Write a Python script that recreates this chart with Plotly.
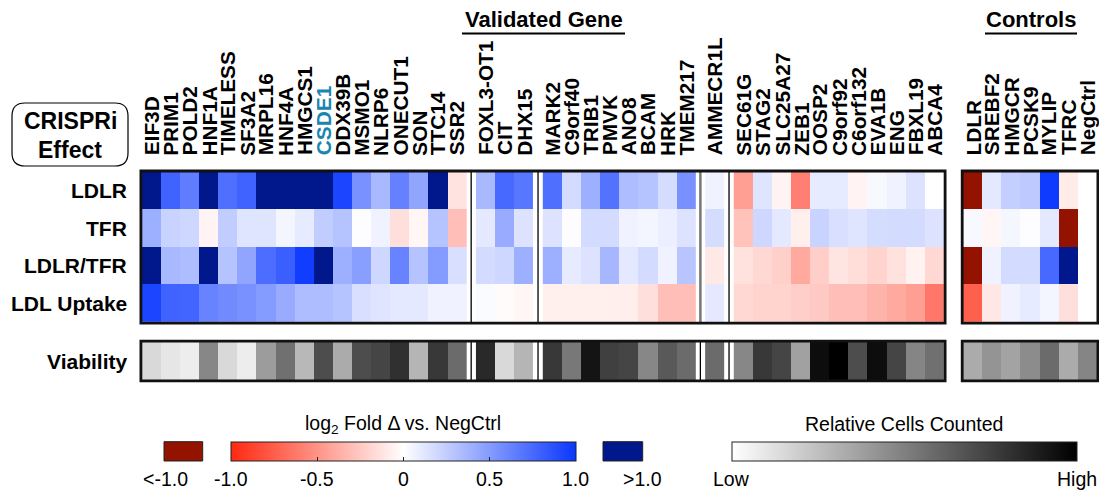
import plotly.graph_objects as go

# ---------------- data ----------------
row_names = ["LDLR", "TFR", "LDLR/TFR", "LDL Uptake"]

genes = ["EIF3D", "PRIM1", "POLD2", "HNF1A", "TIMELESS", "SF3A2", "MRPL16", "HNF4A",
         "HMGCS1", "CSDE1", "DDX39B", "MSMO1", "NLRP6", "ONECUT1", "SON", "TTC14", "SSR2",
         "FOXL3-OT1", "CIT", "DHX15",
         "MARK2", "C9orf40", "TRIB1", "PMVK", "ANO8", "BCAM", "HRK", "TMEM217",
         "AMMECR1L",
         "SEC61G", "STAG2", "SLC25A27", "ZEB1", "OOSP2", "C9orf92", "C6orf132", "EVA1B",
         "ENG", "FBXL19", "ABCA4"]
group_sizes = [17, 3, 8, 1, 11]
highlight_gene = "CSDE1"

# log2 fold change vs NegCtrl; values beyond +/-1 are shown saturated (>1.0 / <-1.0)
ldlr = [1.5, 0.78, 0.65, 1.5, 0.72, 0.78, 1.5, 1.5, 1.5, 1.5, 0.93, 0.55, 0.35, 0.63, 0.45, 1.5, -0.13,
        0.35, 0.75, 0.68,
        0.72, 0.18, 0.40, 0.70, 0.33, 0.30, 0.17, 0.55,
        0.06,
        -0.45, 0.13, -0.05, -0.59, 0.10, 0.10, -0.05, 0.03, 0.06, 0.14, 0.0]
tfr = [0.40, 0.22, 0.20, -0.05, 0.25, 0.13, 0.13, 0.05, 0.10, 0.25, 0.30, 0.01, 0.06, -0.15, -0.04, 0.30, -0.30,
       0.11, 0.42, 0.14,
       0.14, 0.01, 0.18, 0.18, 0.06, 0.05, 0.08, 0.14,
       0.17,
       -0.28, 0.20, 0.11, -0.07, 0.22, 0.16, 0.13, 0.17, 0.18, 0.18, 0.14]
ldlr_tfr = [1.5, 0.35, 0.33, 1.5, 0.30, 0.45, 0.73, 0.80, 0.97, 1.5, 0.40, 0.48, 0.20, 0.62, 0.30, 0.50, 0.16,
            0.18, 0.20, 0.40,
            0.40, 0.10, 0.14, 0.36, 0.11, 0.18, 0.06, 0.29,
            -0.10,
            -0.14, -0.18, -0.22, -0.40, -0.23, -0.12, -0.16, -0.20, -0.14, -0.06, -0.18]
ldl_uptake = [0.93, 0.78, 0.77, 0.62, 0.58, 0.55, 0.50, 0.42, 0.33, 0.33, 0.30, 0.16, 0.13, 0.11, 0.11, 0.06, 0.06,
              0.02, -0.02, -0.04,
              -0.07, -0.07, -0.07, -0.07, -0.08, -0.15, -0.30, -0.30,
              0.11,
              -0.18, -0.20, -0.20, -0.23, -0.25, -0.30, -0.30, -0.35, -0.40, -0.45, -0.63]
# relative cells counted (0 = low, 1 = high)
viability = [0.15, 0.10, 0.07, 0.47, 0.15, 0.07, 0.39, 0.56, 0.28, 0.70, 0.33, 0.70, 0.73, 0.81, 0.29, 0.78, 0.58,
             0.84, 0.15, 0.29,
             0.78, 0.53, 0.92, 0.75, 0.73, 0.47, 0.65, 0.58,
             0.58,
             0.47, 0.78, 0.73, 0.37, 0.95, 1.0, 0.70, 0.95, 0.73, 0.48, 0.56]

ctrl_genes = ["LDLR", "SREBF2", "HMGCR", "PCSK9", "MYLIP", "TFRC", "NegCtrl"]
ctrl_ldlr = [-1.5, 0.11, 0.24, 0.27, 0.98, -0.09, 0.0]
ctrl_tfr = [0.03, -0.04, 0.04, 0.01, 0.11, -1.5, 0.0]
ctrl_ldlr_tfr = [-1.5, 0.06, 0.18, 0.18, 0.75, 1.5, 0.0]
ctrl_ldl_uptake = [-0.74, -0.11, 0.06, 0.10, 0.05, -0.15, 0.0]
ctrl_viability = [0.33, 0.42, 0.36, 0.45, 0.58, 0.33, 0.48]

fc_ticks = [-1.0, -0.5, 0.0, 0.5, 1.0]
fc_ticktext = ["-1.0", "-0.5", "0", "0.5", "1.0"]

# ---------------- styling / layout constants ----------------
FIG_W, FIG_H = 1099, 491
FONT = "Liberation Sans, Arial, sans-serif"
CELL = 19.1
X0 = 141.7
GAP = 0.5
CTRL_GAP = 1.0
ROW_TOP = 171.8
ROW_H = 37.6
VIA_TOP = 342.0
VIA_H = 38.0

DR = "rgb(148,18,0)"
RED = "rgb(255,40,16)"
BLUE = "rgb(10,55,255)"
NAVY = "rgb(0,24,140)"
ZLIM = 1.2
fc_scale = [[0, DR], [0.0831, DR], [0.0835, RED], [0.5, "white"],
            [0.9165, BLUE], [0.9169, NAVY], [1, NAVY]]
grad_scale = [[0, RED], [0.5, "white"], [1, BLUE]]
gray_scale = [[0, "white"], [1, "black"]]

def paper_x(p):
    return p / FIG_W

def paper_y(p):
    return 1 - p / FIG_H

# group start positions (in cell units)
starts = []
pos = 0.0
for s in group_sizes:
    starts.append(pos)
    pos += s + GAP
main_end = pos - GAP
ctrl_start = main_end + CTRL_GAP

def px(u):
    return X0 + u * CELL

fig = go.Figure()

def add_block(sl, start_u, rows, via):
    fig.add_trace(go.Heatmap(
        z=[r[sl] for r in rows], x0=px(start_u) + CELL / 2, dx=CELL,
        y0=ROW_TOP + ROW_H / 2, dy=ROW_H,
        colorscale=fc_scale, zmin=-ZLIM, zmax=ZLIM, showscale=False, hoverinfo="skip"))
    fig.add_trace(go.Heatmap(
        z=[via[sl]], x0=px(start_u) + CELL / 2, dx=CELL,
        y0=VIA_TOP + VIA_H / 2, dy=VIA_H,
        colorscale=gray_scale, zmin=0, zmax=1, showscale=False, hoverinfo="skip"))

main_rows = [ldlr, tfr, ldlr_tfr, ldl_uptake]
idx = 0
for s, st in zip(group_sizes, starts):
    add_block(slice(idx, idx + s), st, main_rows, viability)
    idx += s
add_block(slice(0, len(ctrl_genes)), ctrl_start,
          [ctrl_ldlr, ctrl_tfr, ctrl_ldlr_tfr, ctrl_ldl_uptake], ctrl_viability)

# colorbar carriers (off-screen markers)
CB_TOP = 441.7
CB_TH = 19.3
FC_CX, FC_LEN = 403.3, 345.3
GR_CX, GR_LEN = 904.2, 345.0
fig.add_trace(go.Scatter(
    x=[-50, -50], y=[-50, -50], mode="markers", hoverinfo="skip", showlegend=False,
    marker=dict(color=[fc_ticks[0], fc_ticks[-1]], colorscale=grad_scale, cmin=-1, cmax=1,
                showscale=True,
                colorbar=dict(orientation="h", x=paper_x(FC_CX), xanchor="center",
                              y=paper_y(CB_TOP), yanchor="top", ypad=0, xpad=0,
                              len=FC_LEN, lenmode="pixels", thickness=CB_TH,
                              outlinewidth=1, outlinecolor="#222",
                              tickvals=fc_ticks[1:-1], ticks="inside", ticklen=4,
                              tickcolor="#222", showticklabels=False))))
fig.add_trace(go.Scatter(
    x=[-50, -50], y=[-50, -50], mode="markers", hoverinfo="skip", showlegend=False,
    marker=dict(color=[0, 1], colorscale=gray_scale, cmin=0, cmax=1, showscale=True,
                colorbar=dict(orientation="h", x=paper_x(GR_CX), xanchor="center",
                              y=paper_y(CB_TOP), yanchor="top", ypad=0, xpad=0,
                              len=GR_LEN, lenmode="pixels", thickness=CB_TH,
                              outlinewidth=1, outlinecolor="#222",
                              ticks="", showticklabels=False))))

shapes = []
annotations = []

def ann(text, x, y, size, bold=False, color="black", xanchor="center", yanchor="middle", angle=0):
    annotations.append(dict(text=text, x=x, y=y, xref="x", yref="y", showarrow=False,
                            xanchor=xanchor, yanchor=yanchor, textangle=angle, borderpad=0,
                            font=dict(family=FONT, size=size, color=color,
                                      weight="bold" if bold else "normal")))

# gene labels
GENE_FS = 20.8
idx = 0
for s, st in zip(group_sizes, starts):
    for k in range(s):
        g = genes[idx + k]
        ann(g, px(st + k + 0.5), 156.5, GENE_FS, bold=True,
            color="#1a86b0" if g == highlight_gene else "black",
            xanchor="center", yanchor="bottom", angle=-90)
    idx += s
for k, g in enumerate(ctrl_genes):
    ann(g, px(ctrl_start + k + 0.5), 156.5, GENE_FS, bold=True,
        xanchor="center", yanchor="bottom", angle=-90)

# row labels
ROW_FS = 21
for i, r in enumerate(row_names):
    ann(r, 128, ROW_TOP + ROW_H * (i + 0.5), ROW_FS, bold=True, xanchor="right")
ann("Viability", 128, VIA_TOP + VIA_H / 2, ROW_FS, bold=True, xanchor="right")

# CRISPRi Effect box
bx0, bx1, by0, by1, r = 12, 128, 103, 166, 13
shapes.append(dict(type="path", xref="x", yref="y",
                   path=f"M{bx0+r},{by0} L{bx1-r},{by0} Q{bx1},{by0} {bx1},{by0+r} "
                        f"L{bx1},{by1-r} Q{bx1},{by1} {bx1-r},{by1} L{bx0+r},{by1} "
                        f"Q{bx0},{by1} {bx0},{by1-r} L{bx0},{by0+r} Q{bx0},{by0} {bx0+r},{by0} Z",
                   line=dict(color="black", width=1.2)))
ann("CRISPRi", 70, 121, 23, bold=True)
ann("Effect", 70, 150, 23, bold=True)

# headers
ann("Validated Gene", 544, 19, 22, bold=True)
shapes.append(dict(type="line", xref="x", yref="y", x0=462, x1=625, y0=33.5, y1=33.5,
                   line=dict(color="black", width=2)))
ann("Controls", 1031, 19, 22, bold=True)
shapes.append(dict(type="line", xref="x", yref="y", x0=985, x1=1077, y0=33.5, y1=33.5,
                   line=dict(color="black", width=2)))

# separators between groups
for gi, st in enumerate(starts[1:]):
    xs = px(st - GAP / 2)
    col = "#777" if gi == 2 else "black"
    wid = 2.5 if gi == 2 else 1.3
    shapes.append(dict(type="line", xref="x", yref="y", x0=xs, x1=xs, y0=ROW_TOP, y1=ROW_TOP + 4 * ROW_H,
                       line=dict(color=col, width=wid)))
    shapes.append(dict(type="line", xref="x", yref="y", x0=xs, x1=xs, y0=VIA_TOP, y1=VIA_TOP + VIA_H,
                       line=dict(color="black", width=1.3)))

# frames
def frame(x0, x1, y0, y1):
    shapes.append(dict(type="rect", xref="x", yref="y", x0=x0, x1=x1, y0=y0, y1=y1,
                       line=dict(color="#111", width=2.8)))

frame(px(0) - 0.8, px(main_end) + 1.2, ROW_TOP - 0.8, ROW_TOP + 4 * ROW_H + 1)
frame(px(ctrl_start) - 0.8, px(ctrl_start + len(ctrl_genes)) + 1.2, ROW_TOP - 0.8, ROW_TOP + 4 * ROW_H + 1)
frame(px(0) - 0.8, px(main_end) + 1.2, VIA_TOP - 0.8, VIA_TOP + VIA_H + 0.8)
frame(px(ctrl_start) - 0.8, px(ctrl_start + len(ctrl_genes)) + 1.2, VIA_TOP - 0.8, VIA_TOP + VIA_H + 0.8)

# legend: saturated boxes
shapes.append(dict(type="rect", xref="x", yref="y", x0=164, x1=202.7, y0=CB_TOP, y1=CB_TOP + CB_TH,
                   fillcolor=DR, line=dict(color="#222", width=1)))
shapes.append(dict(type="rect", xref="x", yref="y", x0=603, x1=642.7, y0=CB_TOP, y1=CB_TOP + CB_TH,
                   fillcolor=NAVY, line=dict(color="#222", width=1)))

# legend labels
LAB_Y = 479
LAB_FS = 19.5
half = FC_LEN / 2
ann("<-1.0", 165, LAB_Y, LAB_FS)
for v, t in zip(fc_ticks, fc_ticktext):
    ann(t, FC_CX + v * half, LAB_Y, LAB_FS)
ann(">1.0", 642.7, LAB_Y, LAB_FS)
ann("Low", GR_CX - GR_LEN / 2, LAB_Y, LAB_FS)
ann("High", GR_CX + GR_LEN / 2, LAB_Y, LAB_FS)
ann("log<sub>2</sub> Fold Δ vs. NegCtrl", FC_CX, 424, LAB_FS)
ann("Relative Cells Counted", GR_CX, 424, LAB_FS)

fig.update_layout(
    width=FIG_W, height=FIG_H,
    margin=dict(l=0, r=0, t=0, b=0, pad=0, autoexpand=False),
    paper_bgcolor="white", plot_bgcolor="white",
    xaxis=dict(range=[0, FIG_W], visible=False, fixedrange=True),
    yaxis=dict(range=[FIG_H, 0], visible=False, fixedrange=True),
    shapes=shapes, annotations=annotations, showlegend=False,
)

fig.write_html("out.html", config={"displayModeBar": False},
               post_script="document.body.style.margin='0';document.body.style.overflow='hidden';")
